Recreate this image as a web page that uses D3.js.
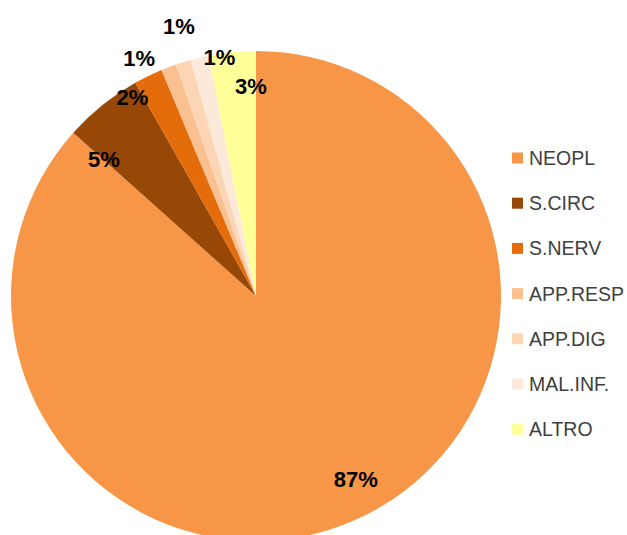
<!DOCTYPE html>
<html>
<head>
<meta charset="utf-8">
<script src="https://cdn.jsdelivr.net/npm/d3@7"></script>
<style>
  html, body { margin: 0; padding: 0; background: #ffffff; }
  svg { display: block; }
</style>
</head>
<body>
<svg id="chart" width="627" height="535"></svg>
<script>
// Causes of death, share of total (%)
const categories = ["NEOPL", "S.CIRC", "S.NERV", "APP.RESP", "APP.DIG", "MAL.INF.", "ALTRO"];
const shares = [86.6, 5.2, 1.9, 1.0, 1.0, 1.2, 3.1];
const colors = ["#F79646", "#974706", "#E46C0A", "#FAC090", "#FCD5B5", "#FDE9D9", "#FFFF99"];

// Label placement: angular nudge (degrees) from slice middle and distance from centre
const labelNudge = [-4.4, -9.3, -5.8, -5.3, 1.3, 4.6, 4.2];
const labelRadius = [209, 204, 234, 265, 280, 241, 210];

const svg = d3.select("#chart");
const cx = 256, cy = 296, R = 245;

const data = categories.map((c, i) => ({ name: c, value: shares[i], color: colors[i], i }));

const pie = d3.pie().value(d => d.value).sort(null);
const arc = d3.arc().innerRadius(0).outerRadius(R);
const arcs = pie(data);

const g = svg.append("g").attr("transform", `translate(${cx},${cy})`);

g.selectAll("path.slice")
  .data(arcs)
  .join("path")
  .attr("class", "slice")
  .attr("d", arc)
  .attr("fill", d => d.data.color);

const total = d3.sum(shares);
g.selectAll("text.pct")
  .data(arcs)
  .join("text")
  .attr("class", "pct")
  .attr("transform", d => {
    const a = (d.startAngle + d.endAngle) / 2 + labelNudge[d.data.i] * Math.PI / 180;
    const r = labelRadius[d.data.i];
    return `translate(${r * Math.sin(a)},${-r * Math.cos(a)})`;
  })
  .attr("text-anchor", "middle")
  .attr("dominant-baseline", "central")
  .attr("font-family", "'Liberation Sans', Arial, sans-serif")
  .attr("font-weight", "bold")
  .attr("font-size", 22)
  .attr("fill", "#000")
  .text(d => Math.round(d.data.value / total * 100) + "%");

// Legend
const legend = svg.append("g").attr("transform", "translate(512,158)");
const rowStep = 45.2;
const rows = legend.selectAll("g.row")
  .data(data)
  .join("g")
  .attr("class", "row")
  .attr("transform", (d, i) => `translate(0,${i * rowStep})`);

rows.append("rect")
  .attr("x", 0).attr("y", -5.5)
  .attr("width", 11).attr("height", 11)
  .attr("fill", d => d.color);

rows.append("text")
  .attr("x", 17)
  .attr("y", 0)
  .attr("dominant-baseline", "central")
  .attr("font-family", "'Liberation Sans', Arial, sans-serif")
  .attr("font-size", 19.5)
  .attr("fill", "#404040")
  .text(d => d.name);
</script>
</body>
</html>
